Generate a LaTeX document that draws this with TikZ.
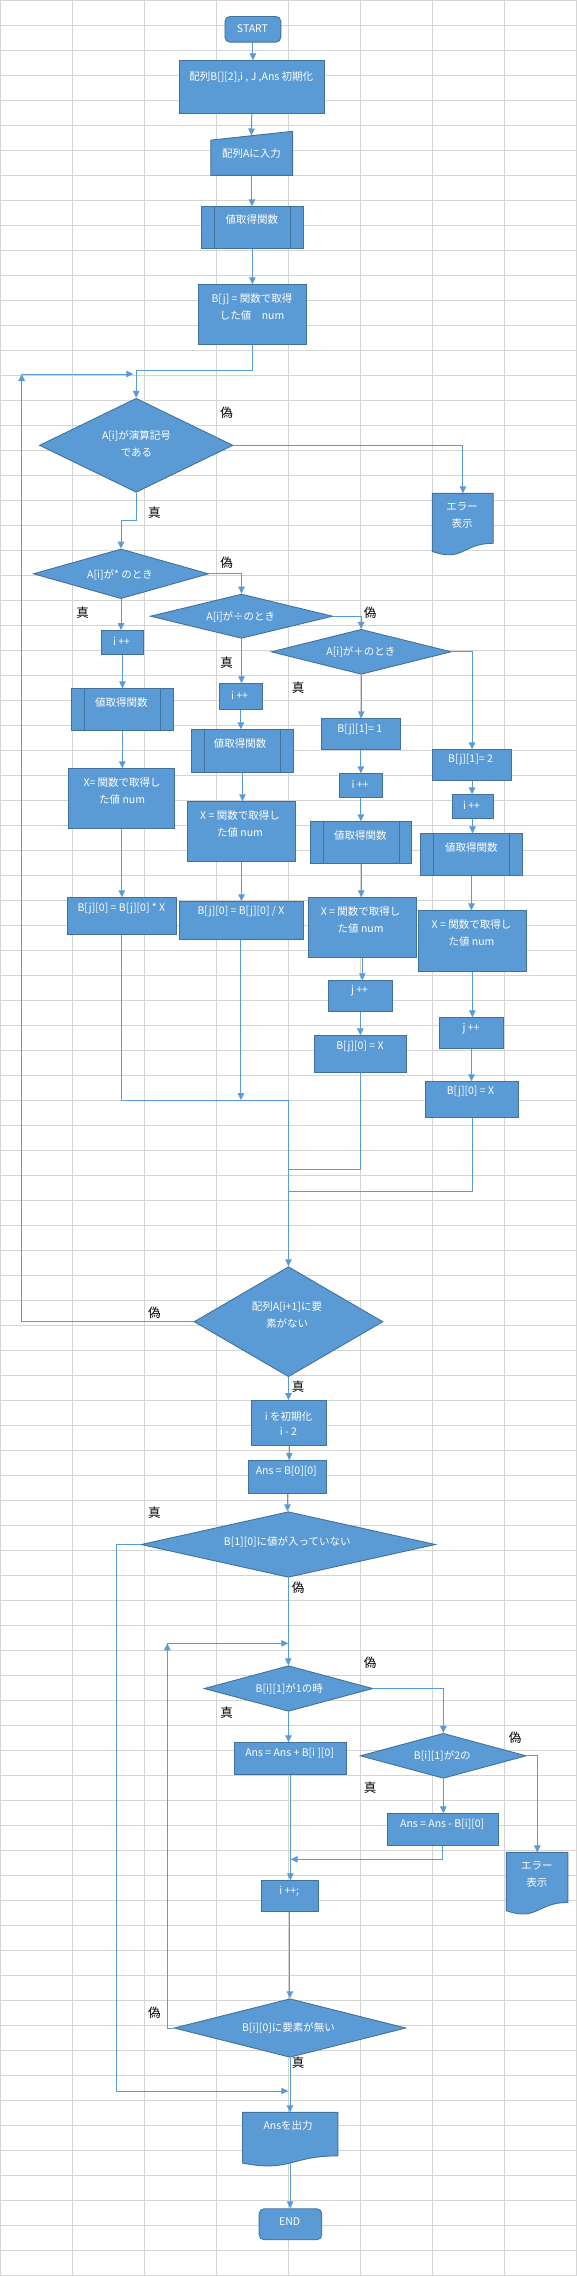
\documentclass[tikz,border=0pt]{standalone}
\usepackage{fontspec}
\setmainfont{Noto Sans CJK JP}
\usetikzlibrary{shapes.geometric,arrows.meta,calc}
\definecolor{boxblue}{RGB}{91,155,213}
\definecolor{boxedge}{RGB}{65,113,156}
\definecolor{lineblue}{RGB}{91,155,213}
\definecolor{gridgray}{RGB}{212,212,212}
\tikzset{
 shp/.style={fill=boxblue,draw=boxedge,line width=0.9pt},
 edgeline/.style={draw=boxedge,line width=0.9pt},
 conn/.style={draw=lineblue,line width=1pt,-{Triangle[length=7pt,width=6.5pt]}},
 plain/.style={draw=lineblue,line width=1pt},
 gridline/.style={draw=gridgray,line width=0.8pt},
 txt/.style={text=white,font=\fontsize{10.5}{16.7}\selectfont,inner sep=0pt,align=center},
 lbl/.style={text=black,font=\fontsize{12.5}{14}\selectfont,inner sep=0pt},
}
\newcommand\mkbox[6][]{\node[shp,rectangle,inner sep=0pt,anchor=north west,minimum width={(#5)-(#3)},minimum height={(#6)-(#4)},#1] (#2) at (#3,#4) {};}
\newcommand\mkpred[6]{\mkbox{#1}{#2}{#3}{#4}{#5}\draw[edgeline] ([xshift=#6pt]#1.north west) -- ([xshift=#6pt]#1.south west) ([xshift=-#6pt]#1.north east) -- ([xshift=-#6pt]#1.south east);}
\newcommand\mkdiam[5]{\node[shp,diamond,inner sep=0pt,minimum width=#4,minimum height=#5] (#1) at (#2,#3) {};}
\newcommand\mkround[5]{\node[shp,rectangle,rounded corners=5pt,inner sep=0pt,anchor=north west,minimum width={(#4)-(#2)},minimum height={(#5)-(#3)}] (#1) at (#2,#3) {};}
\newcommand\mkdoc[5]{%
 \pgfmathsetmacro\dxm{(#2+#4)/2}%
 \pgfmathsetmacro\dya{#3+0.802*#5}%
 \pgfmathsetmacro\dyb{#3+1.108*#5}%
 \pgfmathsetmacro\dyc{#3+0.934*#5}%
 \path[shp] (#2,#3) -- (#4,#3) -- (#4,\dya) .. controls (\dxm,\dya) and (\dxm,\dyb) .. (#2,\dyc) -- cycle;
 \node[rectangle,inner sep=0pt,anchor=north west,minimum width={(#4)-(#2)},minimum height={0.8*#5}] (#1) at (#2,#3) {};}
\newcommand\mkinput[5]{%
 \pgfmathsetmacro\iya{#3+0.2*((#5)-(#3))}%
 \path[shp] (#2,\iya) -- (#4,#3) -- (#4,#5) -- (#2,#5) -- cycle;
 \node[rectangle,inner sep=0pt,anchor=north west,minimum width={(#4)-(#2)},minimum height={(#5)-(#3)}] (#1) at (#2,#3) {};}
\begin{document}
\begin{tikzpicture}[x=1pt,y=-1pt]
\useasboundingbox (0,0) rectangle (577,2276);
\fill[white] (0,0) rectangle (577,2276);
% grid
\foreach \i in {0,...,8} \draw[gridline] ({72.05*\i},0) -- ({72.05*\i},2276);
\foreach \j in {0,...,91} \draw[gridline] (0,{25*\j}) -- (577,{25*\j});

% ---- shapes ----
\mkround{start}{224.5}{16}{280.4}{41.7}
\mkbox{init}{179.2}{60.3}{323.5}{112.7}
\mkinput{input}{210.9}{131.3}{292.6}{175.3}
\mkpred{pred0}{201.3}{206.3}{302.5}{248.3}{13}
\mkbox{bj}{198.3}{284.3}{305.8}{344.3}
\mkdiam{d1}{136.2}{445.3}{193.5}{94}
\mkdoc{err1}{432.4}{493.3}{493.1}{62.3}
\mkdiam{d2}{121}{573.8}{175.2}{49.7}
\mkdiam{d3}{241.5}{616.2}{182.2}{44.3}
\mkdiam{d4}{361.2}{651.8}{180}{45}
% column 1
\mkbox{i1}{101.2}{630}{142.8}{654.3}
\mkpred{pr1}{71}{688.3}{172.6}{730.3}{13.3}
\mkbox{x1}{68.4}{768.3}{174.4}{828.3}
\mkbox{b1}{67.3}{897.3}{175.5}{934.3}
% column 2
\mkbox{i2}{219.3}{683.3}{261.6}{708.7}
\mkpred{pr2}{191.4}{729.3}{292.6}{771.7}{12.8}
\mkbox{x2}{187.3}{801.3}{294.8}{861.3}
\mkbox{b2}{178.5}{901.3}{302.5}{938.7}
% column 3
\mkbox{b31}{321.3}{718.3}{399.6}{749.3}
\mkbox{i3}{339.3}{773.3}{381.6}{797.3}
\mkpred{pr3}{310.2}{821.3}{411.4}{863.3}{12.9}
\mkbox{x3}{308.4}{897.3}{415.5}{957.3}
\mkbox{jj3}{328.2}{980.3}{391.5}{1011}
\mkbox{b3}{314.3}{1035.3}{406.3}{1072.3}
% column 4
\mkbox{b41}{432.4}{749.3}{510.8}{780.3}
\mkbox{i4}{451.5}{794.3}{492.7}{818.3}
\mkpred{pr4}{420.2}{833.3}{521.8}{875.3}{12.9}
\mkbox{x4}{418.4}{910.3}{525.5}{971.3}
\mkbox{jj4}{439.4}{1017.3}{502.7}{1048.3}
\mkbox{b4}{425.4}{1081.3}{517.8}{1117.3}
% lower part
\mkdiam{d5}{288.5}{1321.7}{188.8}{110}
\mkbox{ini2}{251.3}{1400}{326.4}{1445.3}
\mkbox{ans0}{248.4}{1460}{325.7}{1493.3}
\mkdiam{d6}{288.3}{1544.5}{294.4}{65.6}
\mkdiam{d7}{288.5}{1688.5}{168.6}{45.6}
\mkbox{ansp}{234.4}{1742.3}{345.5}{1774.3}
\mkdiam{d8}{443.3}{1755.8}{165.9}{45}
\mkbox{ansm}{387.1}{1813.3}{497.5}{1845.3}
\mkdoc{err2}{506.4}{1852.3}{567.8}{62.5}
\mkbox{ipp}{261.3}{1880.3}{317.6}{1910.7}
\mkdiam{d9}{290}{2028}{231.8}{58.6}
\mkdoc{out}{242.5}{2112.3}{337.8}{54.3}
\mkround{end}{258.7}{2208.3}{321.3}{2239.3}

% ---- texts ----
\node[txt] (t-start) at (252.5,29) {START};
\node[txt] (t-init) at (251.3,77.3) {配列B[][2],i , J ,Ans 初期化};
\node[txt] (t-input) at (251.5,154) {配列Aに入力};
\node[txt] (t-pred0) at (251.9,220) {値取得関数};
\node[txt] (t-bj) at (252,306.7) {B[j] = 関数で取得\\した値　num};
\node[txt] (t-d1) at (136.5,443.7) {A[i]が演算記号\\である};
\node[txt,font=\fontsize{10.5}{17.3}\selectfont] (t-err1) at (462,515.3) {エラー\\表示};
\node[txt] (t-d2) at (120,574.7) {A[i]が* のとき};
\node[txt] (t-d3) at (240.8,616.7) {A[i]が÷のとき};
\node[txt] (t-d4) at (360.9,652.3) {A[i]が＋のとき};
\node[txt] (t-i1) at (121.5,641.7) {i ++};
\node[txt] (t-pr1) at (121.4,702.3) {値取得関数};
\node[txt] (t-x1) at (122.1,791) {X= 関数で取得し\\た値 num};
\node[txt] (t-b1) at (121.4,909) {B[j][0] = B[j][0] * X};
\node[txt] (t-i2) at (239.6,695.3) {i ++};
\node[txt] (t-pr2) at (240.1,743.3) {値取得関数};
\node[txt] (t-x2) at (240,824) {X = 関数で取得し\\た値 num};
\node[txt] (t-b2) at (241,911.7) {B[j][0] = B[j][0] / X};
\node[txt] (t-b31) at (359.8,729.7) {B[j][1]= 1};
\node[txt] (t-i3) at (360,784.3) {i ++};
\node[txt] (t-pr3) at (360.3,835.7) {値取得関数};
\node[txt] (t-x3) at (360.6,920) {X = 関数で取得し\\た値 num};
\node[txt] (t-jj3) at (359.5,990.7) {j ++};
\node[txt] (t-b3) at (359.9,1046.7) {B[j][0] = X};
\node[txt] (t-b41) at (470.5,760) {B[j][1]= 2};
\node[txt] (t-i4) at (471.5,805.7) {i ++};
\node[txt] (t-pr4) at (471.3,847.3) {値取得関数};
\node[txt] (t-x4) at (471.5,933) {X = 関数で取得し\\た値 num};
\node[txt] (t-jj4) at (471,1029) {j ++};
\node[txt] (t-b4) at (470.4,1091.7) {B[j][0] = X};
\node[txt] (t-d5) at (287,1315.3) {配列A[i+1]に要\\素がない};
\node[txt,font=\fontsize{10.5}{15.3}\selectfont] (t-ini2) at (288.4,1423.7) {i を初期化\\i - 2};
\node[txt] (t-ans0) at (286.3,1471.7) {Ans = B[0][0]};
\node[txt] (t-d6) at (287.3,1542.3) {B[1][0]に値が入っていない};
\node[txt] (t-d7) at (289.2,1689) {B[i][1]が1の時};
\node[txt] (t-ansp) at (289.6,1753.3) {Ans = Ans + B[i ][0]};
\node[txt] (t-d8) at (442.3,1756) {B[i][1]が2の};
\node[txt] (t-ansm) at (442.2,1824.3) {Ans = Ans - B[i][0]};
\node[txt,font=\fontsize{10.5}{17}\selectfont] (t-err2) at (536.9,1874.2) {エラー\\表示};
\node[txt] (t-ipp) at (289.2,1891.7) {i ++;};
\node[txt] (t-d9) at (288.5,2027.7) {B[i][0]に要素が無い};
\node[txt] (t-out) at (288.1,2126) {Ansを出力};
\node[txt] (t-end) at (289.6,2221.7) {END};

% ---- labels ----
\node[lbl] (l1) at (226.5,412.7) {偽};
\node[lbl] (l2) at (154.4,512.8) {真};
\node[lbl] (l3) at (226.5,563) {偽};
\node[lbl] (l4) at (82.6,612.8) {真};
\node[lbl] (l5) at (370,612.8) {偽};
\node[lbl] (l6) at (226.5,662.8) {真};
\node[lbl] (l7) at (298.2,687.8) {真};
\node[lbl] (l8) at (154.4,1312.8) {偽};
\node[lbl] (l9) at (298.2,1387.2) {真};
\node[lbl] (l10) at (154.4,1512.8) {真};
\node[lbl] (l11) at (298.2,1587.8) {偽};
\node[lbl] (l12) at (370,1662.8) {偽};
\node[lbl] (l13) at (226.5,1712.8) {真};
\node[lbl] (l14) at (515,1737.8) {偽};
\node[lbl] (l15) at (370,1787.8) {真};
\node[lbl] (l16) at (154.4,2012.8) {偽};
\node[lbl] (l17) at (298.2,2062.8) {真};

% ---- connectors ----
\coordinate (input-top) at (251.4,135.5);
\draw[conn] (start.south) -- (start.south |- init.north);
\draw[conn] (init.south) -- (input-top);
\draw[conn] (input.south) -- (input.south |- pred0.north);
\draw[conn] (pred0.south) -- (pred0.south |- bj.north);
\coordinate (j1) at (136.2,370.7);
\draw[conn] (bj.south) |- (j1) -- (d1.north);
\coordinate (lp1) at (21.7,374);
\coordinate (lp2) at (133.3,374);
\draw[conn] (d5.west) -| (lp1);
\draw[conn] (lp1) -- (lp2);
\draw[conn] (d1.east) -| (err1.north);
\coordinate (j2) at (121,520.3);
\draw[conn] (d1.south) |- (j2) -- (d2.north);
\draw[conn] (d2.east) -| (d3.north);
\draw[conn] (d3.east) -| (d4.north);
\draw[conn] (d4.east) -| (b41.north);
% column 1
\draw[conn] (d2.south) -- (d2.south |- i1.north);
\draw[conn] (i1.south) -- (i1.south |- pr1.north);
\draw[conn] (pr1.south) -- (pr1.south |- x1.north);
\draw[conn] (x1.south) -- (x1.south |- b1.north);
% column 2
\draw[conn] (d3.south) -- (d3.south |- i2.north);
\draw[conn] (i2.south) -- (i2.south |- pr2.north);
\draw[conn] (pr2.south) -- (pr2.south |- x2.north);
\draw[conn] (x2.south) -- (x2.south |- b2.north);
% column 3
\draw[conn] (d4.south) -- (d4.south |- b31.north);
\draw[conn] (b31.south) -- (b31.south |- i3.north);
\draw[conn] (i3.south) -- (i3.south |- pr3.north);
\draw[conn] (pr3.south) -- (pr3.south |- x3.north);
\draw[conn] (x3.south) -- (x3.south |- jj3.north);
\draw[conn] (jj3.south) -- (jj3.south |- b3.north);
% column 4
\draw[conn] (b41.south) -- (b41.south |- i4.north);
\draw[conn] (i4.south) -- (i4.south |- pr4.north);
\draw[conn] (pr4.south) -- (pr4.south |- x4.north);
\draw[conn] (x4.south) -- (x4.south |- jj4.north);
\draw[conn] (jj4.south) -- (jj4.south |- b4.north);
% merge
\coordinate (m1) at (288.5,1100);
\coordinate (m2) at (288.5,1169.3);
\coordinate (m3) at (288.5,1191);
\draw[plain] (b1.south) |- (m1);
\draw[conn] (b2.south) -- (b2.south |- m1);
\draw[plain] (b3.south) |- (m2);
\draw[plain] (b4.south) |- (m3);
\draw[conn] (m1) -- (d5.north);
% lower part
\draw[conn] (d5.south) -- (d5.south |- ini2.north);
\draw[conn] (ini2.south) -- (ini2.south |- ans0.north);
\draw[conn] (ans0.south) -- (ans0.south |- d6.north);
\coordinate (j5) at (116.5,2091);
\coordinate (j6) at (288.3,2091);
\draw[conn] (d6.west) -| (j5) -- (j6);
\draw[conn] (d6.south) -- (d6.south |- d7.north);
\coordinate (lp3) at (167.3,1643.3);
\coordinate (lp4) at (288.3,1643.3);
\draw[conn] (d9.west) -| (lp3);
\draw[conn] (lp3) -- (lp4);
\draw[conn] (d7.east) -| (d8.north);
\draw[conn] (d7.south) -- (d7.south |- ansp.north);
\draw[conn] (d8.east) -| (err2.north);
\draw[conn] (d8.south) -- (d8.south |- ansm.north);
\coordinate (j7) at (290.7,1859.3);
\draw[conn] (ansm.south) |- (j7);
\draw[conn] (ansp.south) -- (ansp.south |- ipp.north);
\draw[conn] (ipp.south) -- (ipp.south |- d9.north);
\draw[conn] (d9.south) -- (d9.south |- out.north);
\coordinate (outb) at (290.15,2163);
\draw[conn] (outb) -- (outb |- end.north);
\end{tikzpicture}
\end{document}
